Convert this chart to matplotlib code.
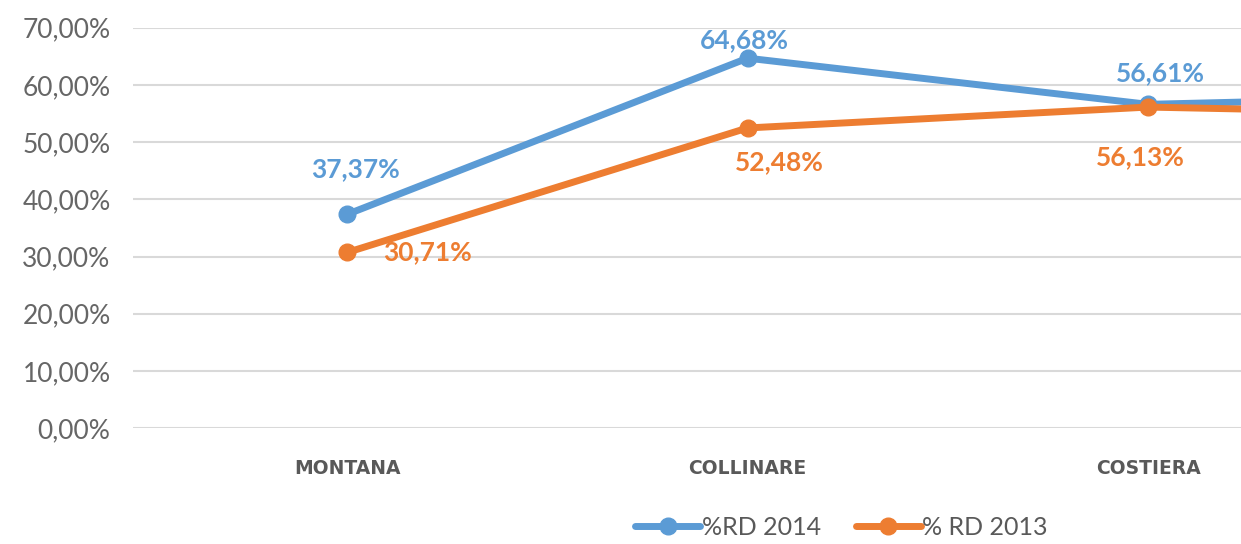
import matplotlib
matplotlib.use("Agg")
import matplotlib.pyplot as plt
from matplotlib import font_manager

categories = ["MONTANA", "COLLINARE", "COSTIERA", "TOTALE"]
rd_2014 = [37.37, 64.68, 56.61, 58.3]
rd_2013 = [30.71, 52.48, 56.13, 54.7]
yticks = [0, 10, 20, 30, 40, 50, 60, 70]
series_names = ["%RD 2014", "% RD 2013"]

names = {f.name for f in font_manager.fontManager.ttflist}
main_font = "Lato" if "Lato" in names else "DejaVu Sans"
cond_font = "DejaVu Sans"

blue = "#5B9BD5"
orange = "#ED7D31"
gray = "#595959"

fig = plt.figure(figsize=(12.41, 5.44), dpi=100)
ax = fig.add_axes([0.107, 0.213, 0.893, 0.736])

x = list(range(len(categories)))
l1, = ax.plot(x, rd_2014, color=blue, lw=5, marker="o", ms=12, zorder=3,
              solid_capstyle="round", label=series_names[0])
l2, = ax.plot(x, rd_2013, color=orange, lw=5, marker="o", ms=12, zorder=4,
              solid_capstyle="round", label=series_names[1])

ax.set_yticks(yticks)
ax.set_yticklabels([f"{v:.2f}%".replace(".", ",") for v in yticks],
                   fontsize=19, color="#666666", fontfamily=main_font)
ax.set_xticks(x)
ax.set_xticklabels(categories, fontsize=13.5, color=gray, fontweight="bold",
                   fontfamily=cond_font)
ax.set_ylim(0, 70)
ax.set_xlim(-0.535, 2.232)
ax.tick_params(axis="both", length=0)
ax.tick_params(axis="x", pad=22)
ax.tick_params(axis="y", pad=16)
ax.grid(axis="y", color="#D9D9D9", lw=1.5)
ax.set_axisbelow(True)
for s in ax.spines.values():
    s.set_visible(False)
ax.axhline(0, color="#D9D9D9", lw=2, zorder=1)

def fmt(v):
    return f"{v:.2f}%".replace(".", ",")

off14 = [(8, 45), (-3, 18), (12, 31)]
off13 = [(80, 0), (32, -34), (-8, -50)]
for i in range(3):
    ax.annotate(fmt(rd_2014[i]), (x[i], rd_2014[i]), xytext=off14[i],
                textcoords="offset pixels", ha="center", va="center",
                color=blue, fontsize=19, fontweight="bold", fontfamily=main_font,
                zorder=5)
    ax.annotate(fmt(rd_2013[i]), (x[i], rd_2013[i]), xytext=off13[i],
                textcoords="offset pixels", ha="center", va="center",
                color=orange, fontsize=19, fontweight="bold", fontfamily=main_font,
                zorder=5)

leg = fig.legend(handles=[l1, l2], loc="center", bbox_to_anchor=(0.678, 0.031),
                 ncol=2, frameon=False, handlelength=2.6,
                 columnspacing=1.4, handletextpad=0.05,
                 prop={"family": main_font, "size": 18})
for t in leg.get_texts():
    t.set_color(gray)

fig.savefig("out.png", dpi=100)
